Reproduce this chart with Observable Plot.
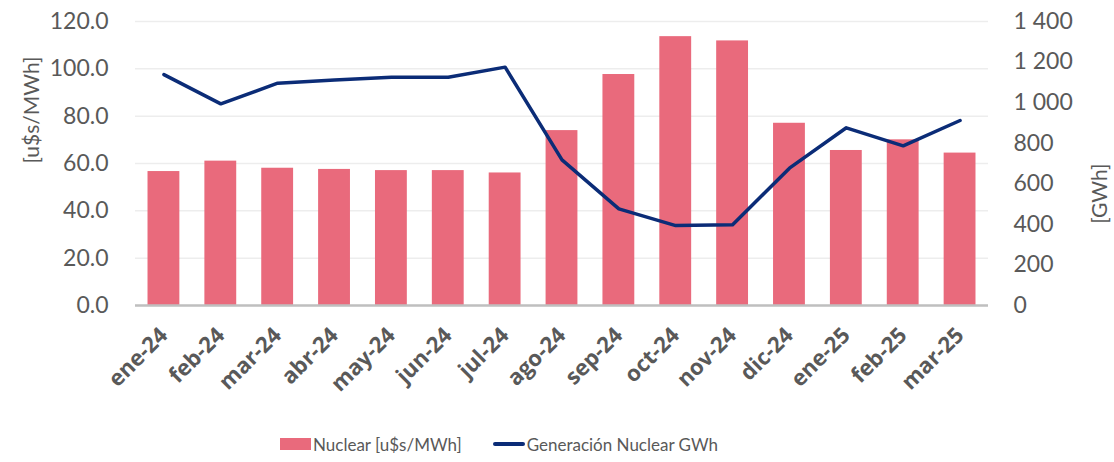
<!DOCTYPE html>
<html>
<head>
<meta charset="utf-8">
<script src="https://cdn.jsdelivr.net/npm/d3@7"></script>
<script src="https://cdn.jsdelivr.net/npm/@observablehq/plot@0.6"></script>
<style>
  html, body { margin: 0; padding: 0; background: #fff; }
  body { width: 1114px; height: 462px; overflow: hidden; font-family: Lato, "Open Sans", sans-serif; }
  #legend { display: flex; justify-content: flex-start; align-items: center; height: 36px; font-size: 17px; color: #595959; padding-left: 280px; }
  .item { display: flex; align-items: center; }
  .sw-bar { width: 31px; height: 12px; background: #E96A7C; margin-right: 2px; }
  .sw-line { width: 32px; height: 4px; background: #0B2C77; border-radius: 2px; margin-right: 2px; margin-left: 31px; }
</style>
</head>
<body>
<div id="chart"></div>
<div id="legend">
  <div class="item"><div class="sw-bar"></div><span>Nuclear [u$s/MWh]</span></div>
  <div class="item"><div class="sw-line"></div><span>Generación Nuclear GWh</span></div>
</div>
<script>
const months = ["ene-24","feb-24","mar-24","abr-24","may-24","jun-24","jul-24","ago-24","sep-24","oct-24","nov-24","dic-24","ene-25","feb-25","mar-25"];
const priceValues = [56.6, 61.0, 58.0, 57.5, 57.0, 57.0, 56.0, 73.9, 97.6, 113.6, 111.8, 77.0, 65.5, 70.0, 64.4];
const genValues = [1138, 994, 1096, 1112, 1125, 1125, 1175, 718, 476, 394, 398, 677, 876, 787, 912];
const leftTicks = [0, 20, 40, 60, 80, 100, 120];
const rightTicks = [0, 200, 400, 600, 800, 1000, 1200, 1400];

const leftMax = 120, rightMax = 1400;
const toLeft = v => v * leftMax / rightMax;
const rows = months.map((m, i) => ({month: m, price: priceValues[i], gen: genValues[i]}));
const fmtRight = d3.formatLocale({decimal: ",", thousands: " ", grouping: [3], currency: ["", ""]}).format(",d");

const chart = Plot.plot({
  width: 1114,
  height: 426,
  marginLeft: 135,
  marginRight: 126,
  marginTop: 21,
  marginBottom: 121,
  style: {fontFamily: "Lato, 'Open Sans', sans-serif", color: "#595959", background: "#fff"},
  x: {domain: months, paddingInner: 0.44, paddingOuter: 0.22, round: false, label: null},
  y: {domain: [0, leftMax], label: null},
  marks: [
    Plot.gridY(leftTicks, {stroke: "#EDEDED", strokeOpacity: 1, strokeWidth: 1.5}),
    Plot.barY(rows, {x: "month", y: "price", fill: "#E96A7C"}),
    Plot.ruleY([0], {stroke: "#BFBFBF", strokeWidth: 2.5}),
    Plot.lineY(rows, {x: "month", y: d => toLeft(d.gen), stroke: "#0B2C77", strokeWidth: 3.5, strokeLinejoin: "round", strokeLinecap: "round"}),
    Plot.axisY(leftTicks, {anchor: "left", tickSize: 0, tickPadding: 27, tickFormat: d3.format(".1f"), fontSize: 23, fill: "#595959", label: null}),
    Plot.axisY(rightTicks.map(toLeft), {anchor: "right", tickSize: 0, tickPadding: 25, tickFormat: v => fmtRight(Math.round(v * rightMax / leftMax)), fontSize: 23, fill: "#595959", label: null}),
    Plot.axisX({tickSize: 0, tickRotate: -45, tickPadding: 26, fontSize: 22, fontWeight: "bold", fontFamily: "'Open Sans', Lato, sans-serif", fill: "#595959", label: null}),
    Plot.text(["[u$s/MWh]"], {frameAnchor: "left", dx: -103, rotate: -90, fontSize: 21, fill: "#595959"}),
    Plot.text(["[GWh]"], {frameAnchor: "right", dx: 112, rotate: -90, fontSize: 21, fill: "#595959"})
  ]
});
document.getElementById("chart").appendChild(chart);
</script>
</body>
</html>
